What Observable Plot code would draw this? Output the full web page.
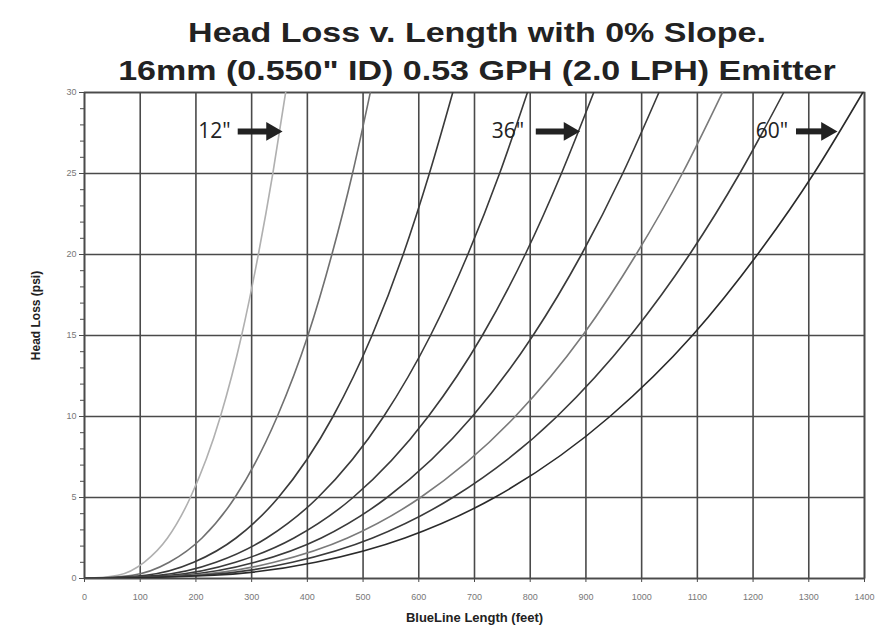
<!DOCTYPE html>
<html>
<head>
<meta charset="utf-8">
<script src="https://cdn.jsdelivr.net/npm/d3@7"></script>
<script src="https://cdn.jsdelivr.net/npm/@observablehq/plot@0.6"></script>
<style>
  html, body { margin: 0; padding: 0; background: #fff; }
  #wrap { position: relative; width: 894px; height: 634px; overflow: hidden; }
  .t { position: absolute; left: 0; width: 954px; text-align: center; font-family: "Liberation Sans", Arial, sans-serif; font-weight: bold; font-size: 28px; color: #222; white-space: nowrap; transform: scaleX(1.215); transform-origin: 477px 50%; }
  #wrap svg { position: absolute; left: 0; top: 0; }
</style>
</head>
<body>
<div id="wrap">
  <div class="t" id="t1" style="top:17px; left:0; width:954px;">Head Loss v. Length with 0% Slope.</div>
  <div class="t" id="t2" style="top:55px; left:0; width:954px;">16mm (0.550" ID) 0.53 GPH (2.0 LPH) Emitter</div>
</div>
<script>
// Emitter spacing (inches) for each curve
const spacings = [12, 18, 24, 30, 36, 42, 48, 54, 60];
// Head loss levels (psi) at which lengths were read
const headLevels = [0, 0.2, 1, 2.5, 5, 10, 15, 20, 25, 30];
// Lateral length (feet) reaching each head-loss level, per spacing
const len12 = [0, 60, 107, 149, 190, 244, 282, 312, 338, 361];
const len18 = [0, 86, 152, 211, 270, 346, 401, 444, 481, 513];
const len24 = [0, 110, 196, 272, 348, 446, 516, 572, 619, 661];
const len30 = [0, 133, 236, 327, 419, 537, 621, 688, 745, 795];
const len36 = [0, 153, 271, 376, 482, 617, 714, 791, 856, 914];
const len42 = [0, 172, 306, 425, 543, 696, 805, 892, 966, 1031];
const len48 = [0, 191, 340, 472, 603, 773, 894, 990, 1073, 1145];
const len54 = [0, 210, 373, 517, 661, 848, 980, 1086, 1176, 1255];
const len60 = [0, 233, 415, 575, 736, 943, 1091, 1208, 1309, 1397];
const lengths = [len12, len18, len24, len30, len36, len42, len48, len54, len60];
const curveColors = ["#b0b0b0", "#707070", "#3a3a3a", "#3a3a3a", "#3a3a3a", "#3a3a3a", "#7a7a7a", "#3a3a3a", "#2a2a2a"];

// Axis ticks
const xTicks = d3.range(0, 1401, 100);
const yTicks = [0, 5, 10, 15, 20, 25, 30];
const yMinor = d3.range(0, 31, 1);

// Spacing callouts
const calloutText = ['12"', '36"', '60"'];
const calloutL = [233, 760, 1234];
const calloutH = [27.6, 27.6, 27.6];
const arrowL1 = [275, 810, 1277];
const arrowHeadL = [336, 870, 1332];

const rows = [];
spacings.forEach((s, i) => {
  lengths[i].forEach((L, j) => rows.push({spacing: s, L, H: headLevels[j], color: curveColors[i]}));
});
const callouts = calloutText.map((t, i) => ({t, L: calloutL[i], H: calloutH[i], L1: arrowL1[i], LH: arrowHeadL[i]}));

const grid = "#4a4a4a";
const chart = Plot.plot({
  width: 894,
  height: 634,
  marginLeft: 84,
  marginRight: 30,
  marginTop: 92,
  marginBottom: 56,
  style: {background: "transparent", fontFamily: "Liberation Sans, Arial, sans-serif"},
  x: {domain: [0, 1400]},
  y: {domain: [0, 30]},
  color: {type: "identity"},
  marks: [
    Plot.gridX(xTicks, {stroke: grid, strokeOpacity: 1, strokeWidth: 1.6}),
    Plot.gridY(yTicks, {stroke: grid, strokeOpacity: 1, strokeWidth: 1.6}),
    Plot.axisY(yMinor, {tickSize: 4, tickFormat: () => "", stroke: grid, label: null}),
    Plot.axisY(yTicks, {tickSize: 5, tickPadding: 3, fontSize: 9, fill: "#777", stroke: grid, label: null}),
    Plot.axisX(xTicks, {tickSize: 4, tickPadding: 11, fontSize: 9, fill: "#777", stroke: grid, label: null, tickFormat: d3.format("d")}),
    Plot.frame({stroke: grid, strokeWidth: 1.6}),
    Plot.line(rows, {x: "L", y: "H", z: "spacing", stroke: "color", strokeWidth: 1.6, curve: "monotone-x", clip: true}),
    Plot.text(callouts, {x: "L", y: "H", text: "t", fontSize: 21, fill: "#222", fontFamily: "Open Sans, sans-serif"}),
    Plot.link(callouts, {x1: "L1", y1: "H", x2: "LH", y2: "H", stroke: "#222", strokeWidth: 6}),
    Plot.dot(callouts, {x: "LH", y: "H", symbol: "triangle", rotate: 90, r: 7, fill: "#222", stroke: "none"}),
    Plot.text(["BlueLine Length (feet)"], {frameAnchor: "bottom", dy: 43, fontSize: 13, fontWeight: "bold", fill: "#222"}),
    Plot.text(["Head Loss (psi)"], {frameAnchor: "left", textAnchor: "middle", dx: -48, dy: -20, rotate: -90, fontSize: 12, fontWeight: "bold", fill: "#222"})
  ]
});
document.getElementById("wrap").appendChild(chart);
</script>
</body>
</html>
